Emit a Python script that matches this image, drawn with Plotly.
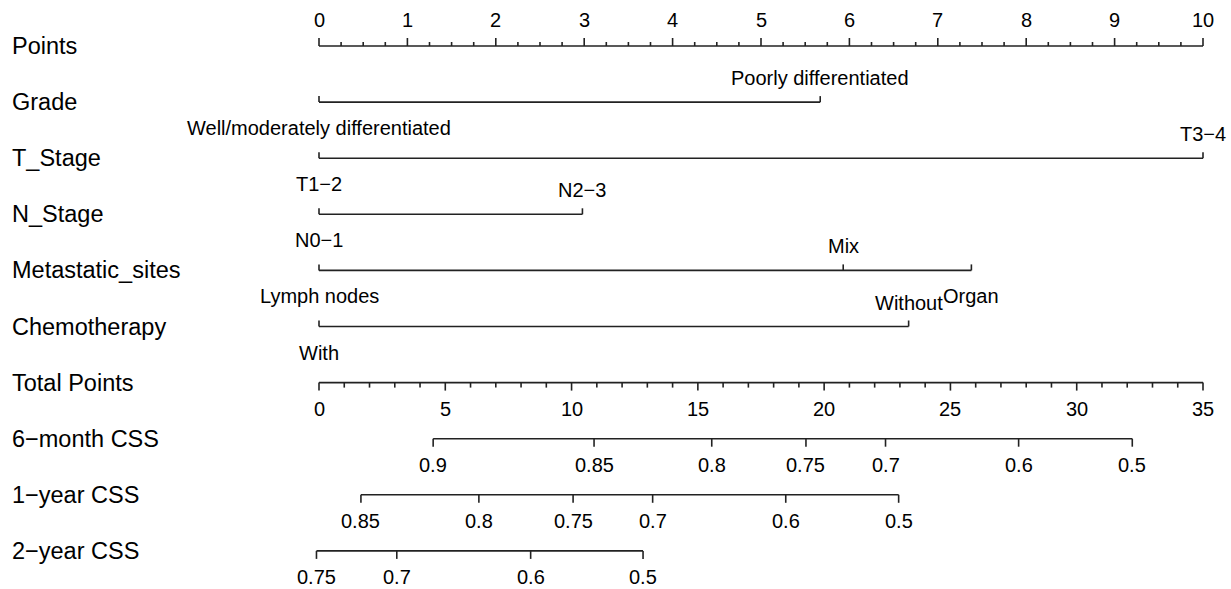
import plotly.graph_objects as go

# ---------------- data ----------------
row_labels = ["Points", "Grade", "T_Stage", "N_Stage", "Metastatic_sites", "Chemotherapy",
              "Total Points", "6\u2212month CSS", "1\u2212year CSS", "2\u2212year CSS"]

points_ticks = [0, 1, 2, 3, 4, 5, 6, 7, 8, 9, 10]
points_minor_step = 0.25

grade_levels = ["Well/moderately differentiated", "Poorly differentiated"]
grade_points = [0, 5.67]
t_levels = ["T1\u22122", "T3\u22124"]
t_points = [0, 10]
n_levels = ["N0\u22121", "N2\u22123"]
n_points = [0, 2.98]
met_levels = ["Lymph nodes", "Mix", "Organ"]
met_points = [0, 5.93, 7.38]
chemo_levels = ["With", "Without"]
chemo_points = [0, 6.67]

total_ticks = [0, 5, 10, 15, 20, 25, 30, 35]
total_minor_step = 1
total_max = 35

css6_probs = ["0.9", "0.85", "0.8", "0.75", "0.7", "0.6", "0.5"]
css6_total = [4.52, 10.89, 15.55, 19.28, 22.43, 27.70, 32.20]
css12_probs = ["0.85", "0.8", "0.75", "0.7", "0.6", "0.5"]
css12_total = [1.66, 6.33, 10.06, 13.21, 18.48, 22.95]
css24_probs = ["0.75", "0.7", "0.6", "0.5"]
css24_total = [-0.1, 3.08, 8.38, 12.83]

# ---------------- layout constants ----------------
W, H = 1231, 589
PX0, PX10 = 319, 1203             # pixel of points 0 and 10
PPU = (PX10 - PX0) / 10.0
X0 = -PX0 / PPU
X1 = (W - PX0) / PPU
ROW0, ROWSTEP = 46, 56.1
LINE_COLOR = "#222222"
FONT = "Liberation Sans, Arial, Helvetica, sans-serif"
LABEL_SIZE = 23.5
TEXT_SIZE = 20


def row_y(i):
    return ROW0 + i * ROWSTEP


def tot2pts(t):
    return t * 10.0 / total_max


fig = go.Figure()
annotations = []
seg_x, seg_y = [], []


def seg(xa, ya, xb, yb):
    seg_x.extend([xa, xb, None])
    seg_y.extend([ya, yb, None])


def text(x, y, s, size=TEXT_SIZE, anchor="center"):
    annotations.append(dict(x=x, y=y, xref="x", yref="y", text=s, showarrow=False,
                            xanchor=anchor, yanchor="middle",
                            font=dict(family=FONT, size=size, color="black")))


# left labels
for i, lab in enumerate(row_labels):
    text((10 - PX0) / PPU, row_y(i), lab, size=LABEL_SIZE, anchor="left")

# Points axis (ticks up)
y = row_y(0)
seg(points_ticks[0], y, points_ticks[-1], y)
n_minor = int(round((points_ticks[-1] - points_ticks[0]) / points_minor_step))
for k in range(n_minor + 1):
    xv = points_ticks[0] + k * points_minor_step
    major = abs(xv - round(xv)) < 1e-9
    seg(xv, y, xv, y - (8 if major else 4))
for t in points_ticks:
    text(t, y - 26, str(t))

# categorical variables
cats = [(grade_levels, grade_points), (t_levels, t_points), (n_levels, n_points),
        (met_levels, met_points), (chemo_levels, chemo_points)]
for r, (levels, pts) in enumerate(cats, start=1):
    y = row_y(r)
    seg(min(pts), y, max(pts), y)
    for j, (lev, p) in enumerate(zip(levels, pts)):
        seg(p, y, p, y - 6)
        if j % 2 == 0:
            text(p, y + 26, lev)
        else:
            text(p, y - 24, lev)

# Total points axis (ticks down)
y = row_y(6)
seg(tot2pts(total_ticks[0]), y, tot2pts(total_ticks[-1]), y)
for k in range(total_ticks[0], total_ticks[-1] + 1, total_minor_step):
    major = k in total_ticks
    seg(tot2pts(k), y, tot2pts(k), y + (8 if major else 5))
for t in total_ticks:
    text(tot2pts(t), y + 26, str(t))

# survival axes
for r, (labs, tots) in zip([7, 8, 9], [(css6_probs, css6_total),
                                        (css12_probs, css12_total),
                                        (css24_probs, css24_total)]):
    y = row_y(r)
    xs = [tot2pts(t) for t in tots]
    seg(min(xs), y, max(xs), y)
    for lab, xv in zip(labs, xs):
        seg(xv, y, xv, y + 8)
        text(xv, y + 26, lab)

fig.add_trace(go.Scatter(x=seg_x, y=seg_y, mode="lines",
                         line=dict(color=LINE_COLOR, width=1.6),
                         hoverinfo="skip", showlegend=False))

fig.update_layout(
    width=W, height=H,
    margin=dict(l=0, r=0, t=0, b=0),
    paper_bgcolor="white", plot_bgcolor="white",
    xaxis=dict(range=[X0, X1], visible=False, fixedrange=True),
    yaxis=dict(range=[H, 0], visible=False, fixedrange=True),
    annotations=annotations,
    showlegend=False,
)

fig.write_html("out.html")
